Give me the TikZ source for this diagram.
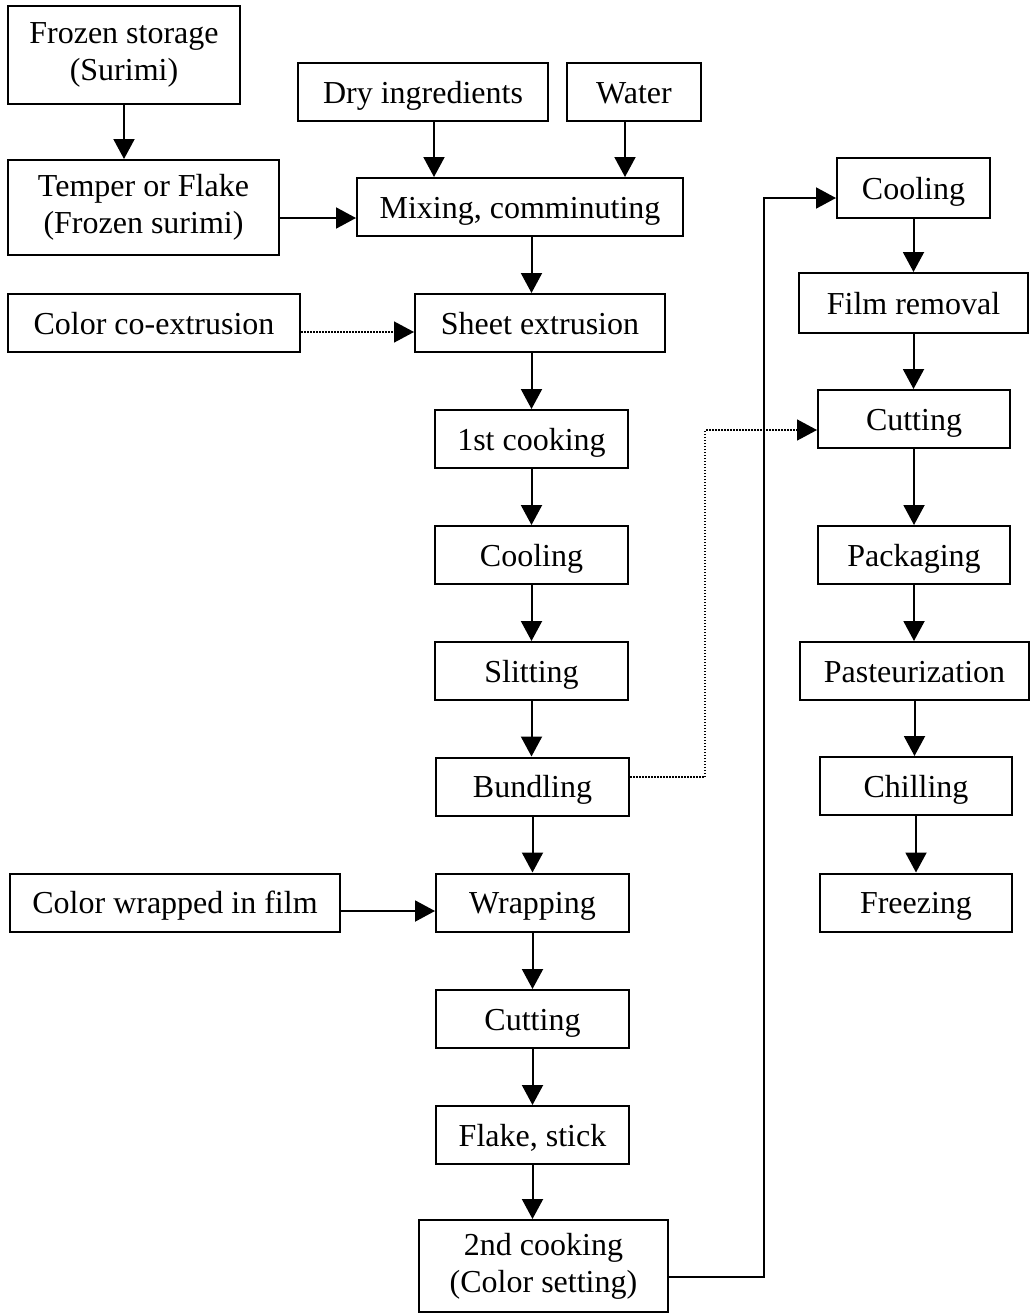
\documentclass[tikz,border=0pt]{standalone}
\usepackage{fontspec}
\setmainfont{Liberation Serif}
\usetikzlibrary{arrows.meta}

\begin{document}
\begin{tikzpicture}[x=1pt, y=-1pt, line width=2pt,
  cell/.style={draw, align=center, inner sep=0pt, minimum height=58pt,
    font=\fontsize{32}{37}\selectfont},
  box/.style={cell, text height=28pt, text depth=6pt},
  flow/.style={-{Triangle[length=20pt,width=21pt]}},
  dotflow/.style={flow, line width=1.5pt, dash pattern=on 1.5pt off 1.5pt}]
  \useasboundingbox (0,0) rectangle (1030,1315);
  % raw materials
  \node[cell, minimum width=232pt, minimum height=98pt] (fs) at (124,55) {Frozen storage\\(Surimi)};
  \node[cell, minimum width=271pt, minimum height=95pt] (tf) at (143.5,207.5) {Temper or Flake\\(Frozen surimi)};
  \node[box, minimum width=250pt] (dry) at (423,92) {Dry ingredients};
  \node[box, minimum width=134pt] (water) at (634,92) {Water};
  \node[box, minimum width=326pt] (mix) at (520,207) {Mixing, comminuting};
  \node[box, minimum width=292pt] (cce) at (154,323) {Color co-extrusion};
  \node[box, minimum width=250pt] (sheet) at (540,323) {Sheet extrusion};
  % middle column
  \node[box, minimum width=193pt] (cook1) at (531.5,439) {1st cooking};
  \node[box, minimum width=193pt] (cool1) at (531.5,555) {Cooling};
  \node[box, minimum width=193pt] (slit) at (531.5,671) {Slitting};
  \node[box, minimum width=193pt] (bund) at (532.5,786.5) {Bundling};
  \node[box, minimum width=193pt] (wrap) at (532.5,902.5) {Wrapping};
  \node[box, minimum width=330pt] (cwf) at (175,902.5) {Color wrapped in film};
  \node[box, minimum width=193pt] (cut1) at (532.5,1019) {Cutting};
  \node[box, minimum width=193pt] (flake) at (532.5,1135) {Flake, stick};
  \node[cell, minimum width=249pt, minimum height=92pt] (cook2) at (543.5,1266) {2nd cooking\\(Color setting)};
  % right column
  \node[box, minimum width=153pt, minimum height=60pt] (cool2) at (913.5,188) {Cooling};
  \node[box, minimum width=229pt, minimum height=60pt] (film) at (913.5,303) {Film removal};
  \node[box, minimum width=192pt] (cut2) at (914,419) {Cutting};
  \node[box, minimum width=192pt] (pack) at (914,555) {Packaging};
  \node[box, minimum width=229pt] (past) at (914.5,671) {Pasteurization};
  \node[box, minimum width=192pt] (chill) at (916,786) {Chilling};
  \node[box, minimum width=192pt] (freeze) at (916,902.5) {Freezing};
  % connectors
  \draw[flow] (fs.south) -- (fs.south |- tf.north);
  \draw[flow] ([yshift=-10.5pt]tf.east) -- ([yshift=-10.5pt]tf.east -| mix.west);
  \draw[flow] ([xshift=11pt]dry.south) -- ([xshift=11pt]dry.south |- mix.north);
  \draw[flow] ([xshift=-9pt]water.south) -- ([xshift=-9pt]water.south |- mix.north);
  \draw[flow] (mix.south -| cook1) -- (sheet.north -| cook1);
  \draw[flow] (sheet.south -| cook1) -- (cook1.north);
  \draw[dotflow] ([yshift=-9pt]cce.east) -- ([yshift=-9pt]cce.east -| sheet.west);
  \foreach \a/\b in {cook1/cool1, cool1/slit, slit/bund, bund/wrap, wrap/cut1,
    cut1/flake, flake/cook2, cool2/film, film/cut2, cut2/pack, pack/past,
    past/chill, chill/freeze}
    \draw[flow] (\a) -- (\a |- \b.north);
  \draw[flow] ([yshift=-8.5pt]cwf.east) -- ([yshift=-8.5pt]cwf.east -| wrap.west);
  \draw[dotflow] ([yshift=9.5pt]bund.east) -- +(75,0) |- ([yshift=-11pt]cut2.west);
  \draw[flow] ([yshift=-11pt]cook2.east) -- +(95,0) |- ([yshift=-10pt]cool2.west);
\end{tikzpicture}
\end{document}
